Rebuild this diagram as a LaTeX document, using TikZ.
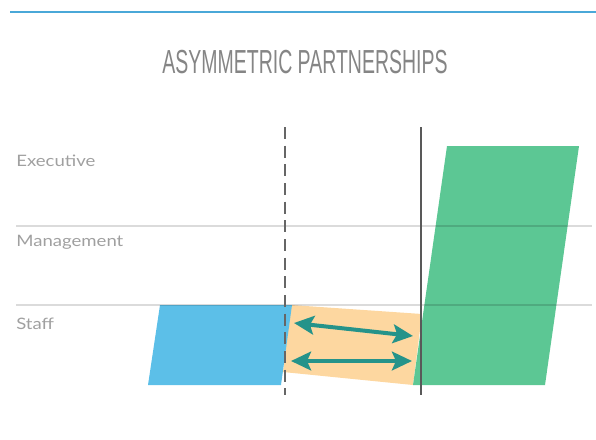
\documentclass[tikz,border=0pt]{standalone}
\usepackage{fontspec}
\setmainfont{Lato}
\newfontfamily\titlefont{Liberation Sans}
\usetikzlibrary{calc}
\usetikzlibrary{arrows.meta}

\definecolor{topblue}{HTML}{4AA8D8}
\definecolor{staffblue}{HTML}{5CBFE8}
\definecolor{peach}{HTML}{FDD7A0}
\definecolor{execgreen}{HTML}{5CC794}
\definecolor{teal}{HTML}{25938A}
\definecolor{labelgray}{HTML}{A0A0A0}
\definecolor{titlegray}{HTML}{858585}

\begin{document}
\begin{tikzpicture}[x=0.75pt,y=-0.75pt]
\useasboundingbox (0,0) rectangle (596,439);
\draw[topblue,line width=1pt] (10,12) -- (596,12);
\node[titlegray,xscale=0.585,font=\titlefont\fontsize{25}{26}\selectfont] (title) at (305,62) {ASYMMETRIC PARTNERSHIPS};
% level labels
\node[anchor=west,inner sep=0pt,labelgray,xscale=1.18,font=\fontsize{11.8}{14}\selectfont] (exec) at (16,161) {Executive};
\node[anchor=west,inner sep=0pt,labelgray,xscale=1.18,font=\fontsize{11.8}{14}\selectfont] (mgmt) at (16,242) {Management};
\node[anchor=west,inner sep=0pt,labelgray,xscale=1.18,font=\fontsize{11.8}{14}\selectfont] (staff) at (16,324) {Staff};
% band between the two sides
\fill[peach] (291,305) -- (422,314) -- (413,385) -- (283,372) -- cycle;
\fill[staffblue] (160,305) -- (292,305) -- (281,385) -- (148,385) -- cycle;
\fill[execgreen] (447,146) -- (579,146) -- (545,385) -- (413,385) -- cycle;
% levels
\draw[black,opacity=0.14,line width=0.9pt] (16,226) -- (592,226);
\draw[black,opacity=0.14,line width=0.9pt] (16,305) -- (592,305);
\draw[black!60,line width=1.4pt,dash pattern=on 9pt off 5pt] (285,127) -- (285,395);
\draw[black!65,line width=1.4pt] (421,127) -- (421,395);
% exchange arrows
\coordinate (A1) at (294,323);
\coordinate (B1) at (413,336);
\coordinate (A2) at (291,361);
\coordinate (B2) at (412,361);
\draw[teal,line width=3pt,{Stealth[length=15pt,width=14pt,inset=3pt]}-{Stealth[length=15pt,width=14pt,inset=3pt]}] (A1) -- (B1);
\draw[teal,line width=3pt,{Stealth[length=15pt,width=14pt,inset=3pt]}-{Stealth[length=15pt,width=14pt,inset=3pt]}] (A2) -- (B2);
\end{tikzpicture}
\end{document}
